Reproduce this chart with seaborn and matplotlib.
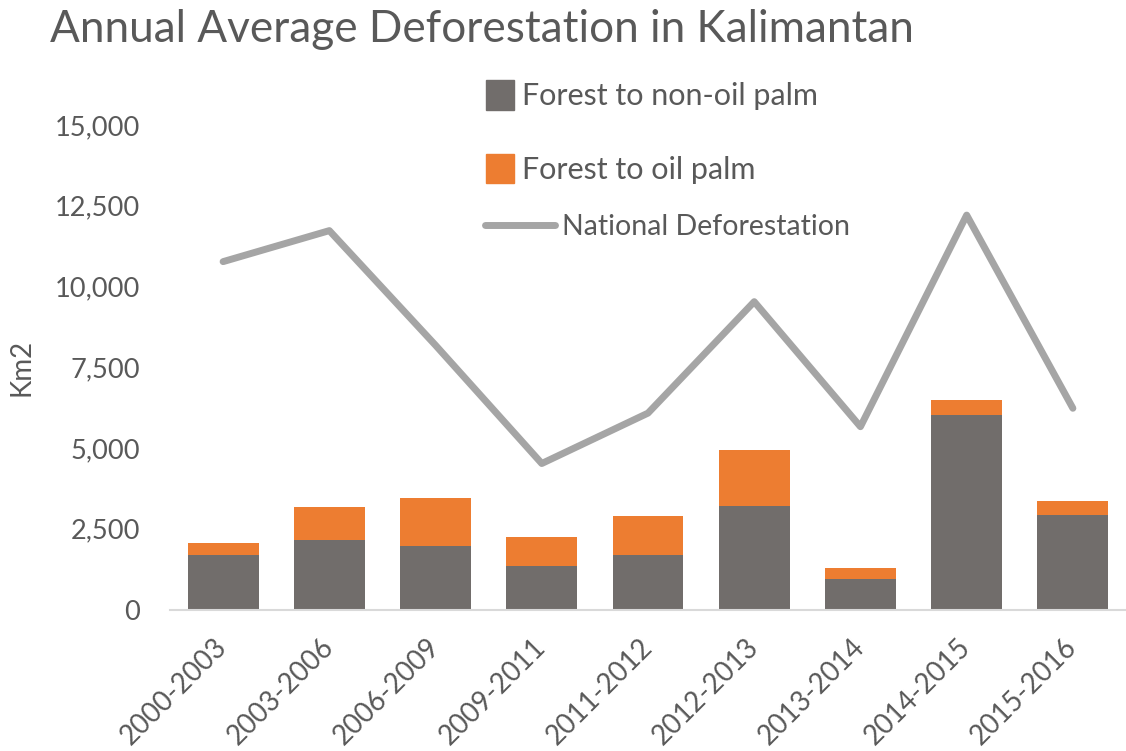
import matplotlib
matplotlib.use("Agg")
import matplotlib.pyplot as plt
import matplotlib.patches as mpatches
import matplotlib.lines as mlines
import seaborn as sns
import pandas as pd
from matplotlib.ticker import FuncFormatter

periods = ["2000-2003", "2003-2006", "2006-2009", "2009-2011", "2011-2012",
           "2012-2013", "2013-2014", "2014-2015", "2015-2016"]
non_oil_palm = [1690, 2150, 1970, 1360, 1690, 3200, 935, 6010, 2930]
oil_palm = [360, 1010, 1470, 895, 1205, 1740, 360, 475, 440]
national = [10770, 11730, 8180, 4520, 6080, 9530, 5660, 12210, 6230]
y_ticks = [0, 2500, 5000, 7500, 10000, 12500, 15000]

GRAY = "#716D6B"
ORANGE = "#ED7D31"
LINE = "#A5A5A5"
TEXT = "#595959"

sns.set_theme(style="white")
plt.rcParams["font.family"] = ["Lato", "DejaVu Sans"]

df = pd.DataFrame({
    "period": periods,
    "non_oil": non_oil_palm,
    "oil": oil_palm,
    "national": national,
})
df["total"] = df["non_oil"] + df["oil"]

fig = plt.figure(figsize=(11.26, 7.51), dpi=100)
ax = fig.add_axes([170 / 1126, 1 - 609.5 / 751, 1 - 170 / 1126, (609.5 - 125) / 751])

sns.barplot(data=df, x="period", y="total", color=ORANGE, width=0.667,
            saturation=1, ax=ax, order=periods, linewidth=0)
sns.barplot(data=df, x="period", y="non_oil", color=GRAY, width=0.667,
            saturation=1, ax=ax, order=periods, linewidth=0)
sns.lineplot(data=df, x="period", y="national", color=LINE, linewidth=5,
             sort=False, ax=ax, solid_capstyle="round", solid_joinstyle="round")

ax.set_xlim(-0.5, len(periods) - 0.5)
ax.set_ylim(0, 15000)
ax.set_yticks(y_ticks)
ax.yaxis.set_major_formatter(FuncFormatter(lambda v, p: f"{int(v):,}"))
ax.set_xlabel("")
ax.set_ylabel("Km2", fontsize=20, color=TEXT, labelpad=14.5)
ax.tick_params(axis="y", length=0, labelsize=19.6, labelcolor=TEXT, pad=21.5)
ax.tick_params(axis="x", length=0, labelsize=19.8, labelcolor=TEXT, pad=24)
for lbl in ax.get_xticklabels():
    lbl.set_rotation(45)
    lbl.set_ha("right")
    lbl.set_va("center")
    lbl.set_rotation_mode("anchor")

for s in ["top", "right", "left"]:
    ax.spines[s].set_visible(False)
ax.spines["bottom"].set_color("#D9D9D9")
ax.spines["bottom"].set_linewidth(1.5)

fig.text(50 / 1126, 1 - 42 / 751, "Annual Average Deforestation in Kalimantan",
         fontsize=31.8, color=TEXT, ha="left", va="baseline")

h1 = mpatches.Patch(color=GRAY, label="Forest to non-oil palm")
h2 = mpatches.Patch(color=ORANGE, label="Forest to oil palm")
leg1 = ax.legend(handles=[h1, h2], loc="upper left",
                 bbox_to_anchor=(486 / 1126, 1 - 80 / 751),
                 bbox_transform=fig.transFigure, frameon=False, fontsize=22,
                 handlelength=0.92, handleheight=1.11, handletextpad=0.25,
                 labelspacing=1.42, borderpad=0, borderaxespad=0,
                 labelcolor=TEXT)
ax.add_artist(leg1)
h3 = mlines.Line2D([], [], color=LINE, linewidth=5, label="National Deforestation",
                   solid_capstyle="round")
leg2 = ax.legend(handles=[h3], loc="center left",
                 bbox_to_anchor=(485 / 1126, 1 - 227 / 751),
                 bbox_transform=fig.transFigure, frameon=False, fontsize=20.5,
                 handlelength=2.45, handletextpad=0.25, borderpad=0,
                 borderaxespad=0, labelcolor=TEXT)

fig.savefig("out.png", dpi=100)
